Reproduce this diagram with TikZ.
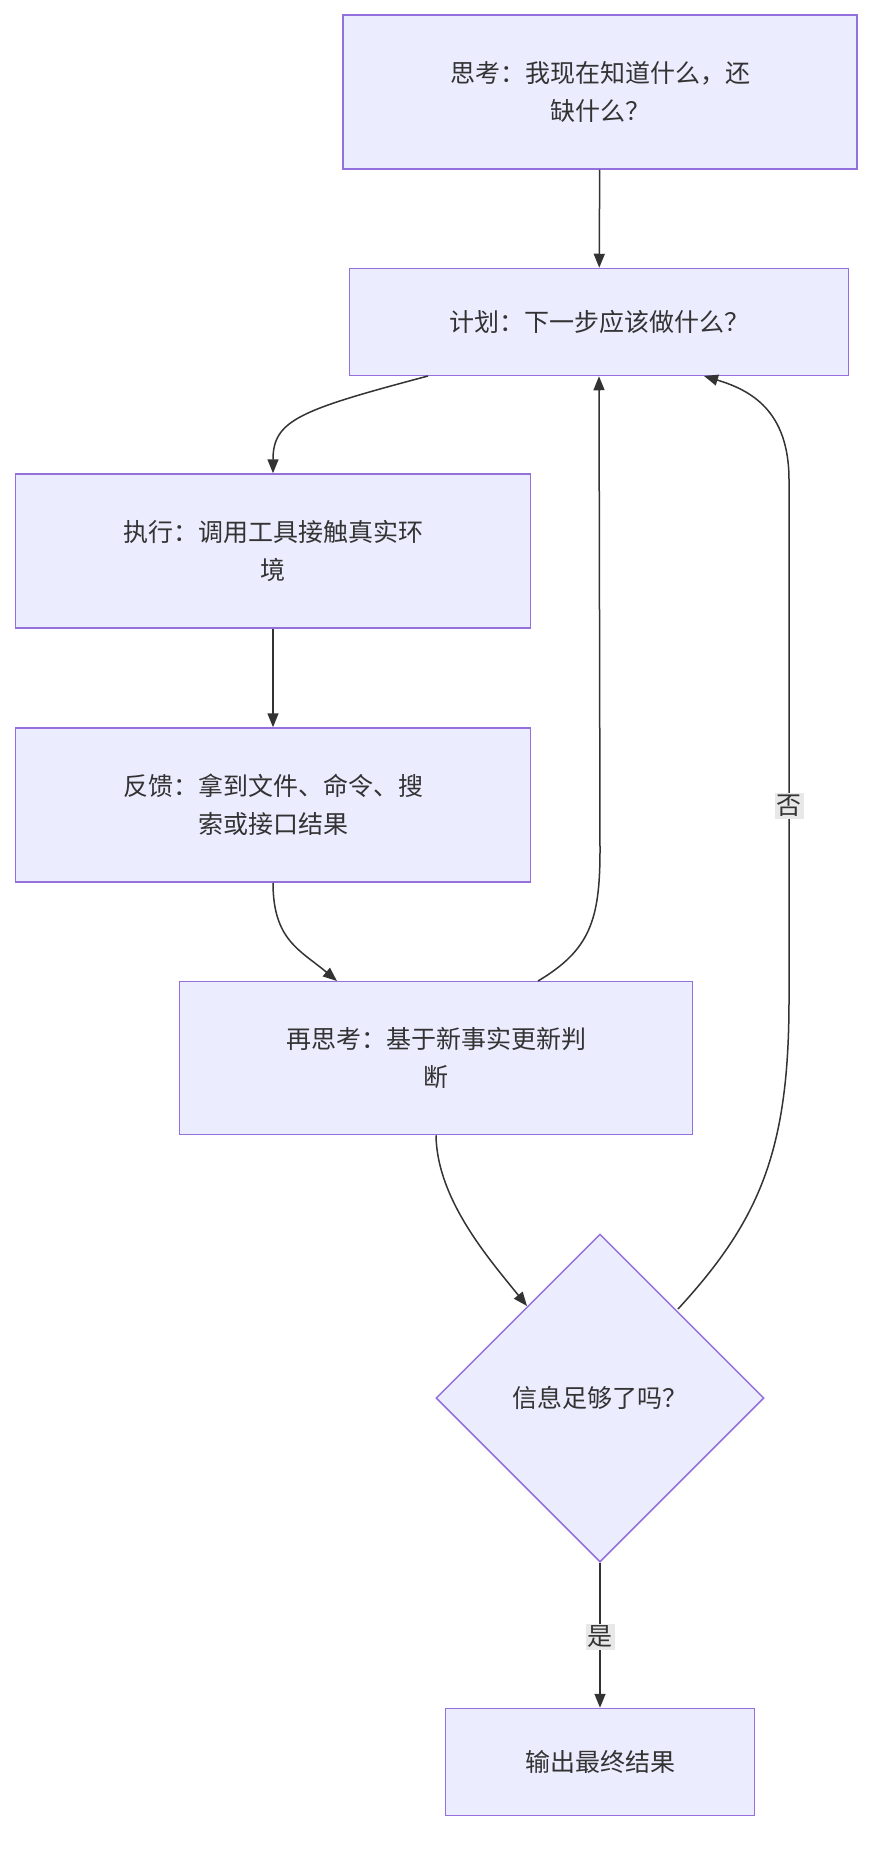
\documentclass[tikz,border=0pt]{standalone}
\usepackage{fontspec}
\setmainfont{Noto Sans CJK SC}
\usetikzlibrary{shapes.geometric,arrows.meta}
\definecolor{boxfill}{HTML}{ECECFF}
\definecolor{boxline}{HTML}{9370DB}
\definecolor{ink}{HTML}{333333}
\definecolor{lblbg}{HTML}{E8E8E8}
\begin{document}
\begin{tikzpicture}[x=1pt,y=-1pt,
    box/.style={draw=boxline, fill=boxfill, line width=1.5pt, text=ink, align=center, font=\fontsize{25}{38}\selectfont},
    decide/.style={diamond, draw=boxline, fill=boxfill, line width=1.5pt, text=ink, minimum width=328pt, minimum height=328pt, inner sep=0pt, font=\fontsize{25}{38}\selectfont},
    link/.style={draw=ink, line width=1.5pt, -{Triangle[length=14pt,width=11pt]}},
    lbl/.style={fill=lblbg, text=ink, inner sep=2pt, font=\fontsize{25}{30}\selectfont}]
    \useasboundingbox (0,0) rectangle (882,1852);
    \node[box, minimum width=514pt, minimum height=154pt, text width=380pt] (think) at (600,92) {思考：我现在知道什么，还\\缺什么？};
    \node[box, minimum width=499pt, minimum height=107pt] (plan) at (599,322) {计划：下一步应该做什么？};
    \node[box, minimum width=515pt, minimum height=154pt, text width=380pt] (act) at (273,551) {执行：调用工具接触真实环\\境};
    \node[box, minimum width=515pt, minimum height=154pt, text width=380pt] (feed) at (273,805) {反馈：拿到文件、命令、搜\\索或接口结果};
    \node[box, minimum width=513pt, minimum height=153pt, text width=380pt] (rethink) at (436,1058) {再思考：基于新事实更新判\\断};
    \node[decide] (enough) at (600,1398) {信息足够了吗？};
    \node[box, minimum width=309pt, minimum height=107pt] (out) at (600,1762) {输出最终结果};
    % connectors
    \draw[link] (think) -- (plan);
    \draw[link] (428,376) .. controls (300,410) and (273,420) .. (act.north);
    \draw[link] (act) -- (feed);
    \draw[link] (feed.south) .. controls (273,940) and (300,950) .. (337,981);
    \draw[link] (538,981) .. controls (590,950) and (600,920) .. (600,850) -- (plan.south);
    \draw[link] (rethink.south) .. controls (437,1200) and (490,1260) .. (527,1306);
    \draw[link] (678,1309) .. controls (760,1220) and (789,1150) .. (789,1000) -- (789,480) .. controls (789,410) and (750,390) .. (704,376);
    \draw[link] (enough.south) -- (out.north);
    \node[lbl] (no) at (789,806) {否};
    \node[lbl] (yes) at (600,1637) {是};
\end{tikzpicture}
\end{document}
